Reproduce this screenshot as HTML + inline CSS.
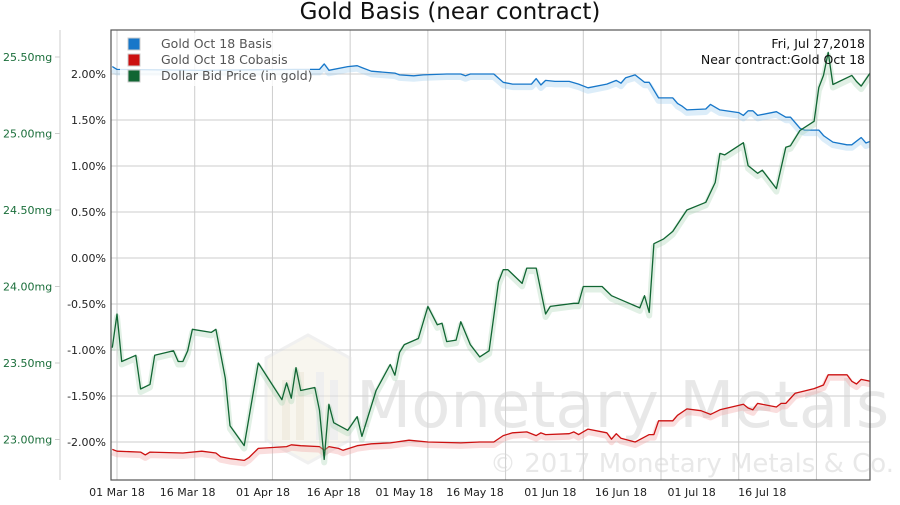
<!DOCTYPE html>
<html><head><meta charset="utf-8"><style>
html,body{margin:0;padding:0;background:#fff;}
svg text{font-family:"DejaVu Sans","Liberation Sans",sans-serif;}
</style></head><body>
<svg id="chart" width="900" height="500" viewBox="0 0 900 500" xmlns="http://www.w3.org/2000/svg">
<rect x="0" y="0" width="900" height="500" fill="#fff"/>
<text x="450" y="19" text-anchor="middle" font-size="23" fill="#111">Gold Basis (near contract)</text>
<g id="grid"></g>
<g id="watermark" opacity="0.55">
  <polygon points="308,335 350,358 350,440 308,463 266,440 266,358" fill="#f3efe2" stroke="#e4e4e4" stroke-width="3"/>
  <rect x="282" y="380" width="8" height="60" fill="#e6e0cc"/><rect x="296" y="372" width="8" height="68" fill="#e6e0cc"/>
  <rect x="316" y="372" width="8" height="68" fill="#e3e3e3"/><rect x="330" y="380" width="8" height="60" fill="#e3e3e3"/>
  <text x="356" y="427" font-size="64" fill="#d6d6d6">Monetary Metals</text>
  <text x="490" y="472" font-size="26" fill="#d6d6d6">© 2017 Monetary Metals &amp; Co.</text>
</g>
<g id="series"></g>
<rect x="111" y="30" width="759" height="450" fill="none" stroke="#555" stroke-width="1.2"/>
<line x1="60" y1="30" x2="60" y2="480" stroke="#ccc"/>
<g id="axes"></g>
<g>
  <rect x="120" y="33" width="190" height="53" fill="#fff" fill-opacity="0.8"/>
  <rect x="128" y="38" width="12" height="12" fill="#1777c9" stroke="#ccc"/>
  <text x="161" y="48" font-size="12.5" fill="#555">Gold Oct 18 Basis</text>
  <rect x="128" y="54" width="12" height="12" fill="#cc1111" stroke="#ccc"/>
  <text x="161" y="64" font-size="12.5" fill="#555">Gold Oct 18 Cobasis</text>
  <rect x="128" y="70" width="12" height="12" fill="#116633" stroke="#ccc"/>
  <text x="161" y="80" font-size="12.5" fill="#555">Dollar Bid Price (in gold)</text>
</g>
<text x="865" y="48" text-anchor="end" font-size="12.5" fill="#111">Fri, Jul 27,2018</text>
<text x="865" y="64" text-anchor="end" font-size="12.5" fill="#111">Near contract:Gold Oct 18</text>
</svg>
<script>
// days since 01 Mar 2018
const basisDays = [-1,0,18,38,43,44,45,49,51,52,54,59,60,63,65,70,73,74,75,77,80,82,84,88,89,90,91,93,96,98,100,104,106,107,108,110,112,113,115,118,119,120,121,125,126,128,132,133,134,135,136,140,142,143,145,146,149,150,152,155,156,158,159,160];
const basisVals = [2.08,2.05,2.04,2.05,2.05,2.11,2.04,2.08,2.09,2.07,2.03,2.01,1.99,1.98,1.99,2.00,2.00,1.98,2.00,2.00,2.00,1.91,1.89,1.89,1.95,1.88,1.93,1.92,1.92,1.89,1.85,1.89,1.93,1.90,1.96,1.99,1.91,1.91,1.74,1.74,1.68,1.65,1.61,1.62,1.67,1.61,1.58,1.55,1.60,1.60,1.55,1.59,1.53,1.53,1.41,1.39,1.39,1.33,1.26,1.23,1.23,1.31,1.25,1.27];
const cobasisDays = [-1,0,5,6,7,14,18,21,22,24,27,28,30,36,37,39,43,44,45,47,48,51,54,58,62,66,73,77,80,82,84,87,89,90,91,96,97,98,100,104,105,106,107,110,113,114,115,118,119,121,124,126,128,133,134,135,136,140,141,142,144,148,150,151,155,156,157,158,160];
const cobasisVals = [-2.08,-2.10,-2.11,-2.14,-2.11,-2.12,-2.10,-2.12,-2.16,-2.18,-2.20,-2.17,-2.07,-2.05,-2.03,-2.04,-2.05,-2.09,-2.05,-2.07,-2.09,-2.04,-2.02,-2.01,-1.98,-2.00,-2.01,-2.00,-2.00,-1.93,-1.90,-1.89,-1.93,-1.90,-1.92,-1.91,-1.89,-1.92,-1.86,-1.90,-1.97,-1.91,-1.96,-2.00,-1.92,-1.92,-1.77,-1.77,-1.71,-1.64,-1.66,-1.70,-1.65,-1.59,-1.63,-1.65,-1.58,-1.62,-1.58,-1.58,-1.47,-1.42,-1.38,-1.27,-1.27,-1.34,-1.37,-1.32,-1.34];
const dollarDays = [-1,0,1,4,5,7,8,12,13,14,15,16,20,21,23,24,27,30,35,36,37,38,39,42,43,44,45,46,49,51,52,55,58,59,60,61,64,66,68,69,70,72,73,75,77,79,81,82,83,86,87,89,91,92,97,98,99,103,104,105,108,111,112,113,114,116,118,121,125,127,128,129,133,134,136,137,140,142,143,145,148,149,150,151,152,156,157,158,160];
const dollarVals = [23.60,23.82,23.51,23.55,23.33,23.36,23.55,23.58,23.51,23.51,23.58,23.72,23.70,23.72,23.40,23.09,22.96,23.50,23.26,23.37,23.27,23.47,23.32,23.34,23.19,22.87,23.23,23.11,23.06,23.15,23.02,23.32,23.49,23.42,23.57,23.62,23.66,23.87,23.75,23.76,23.64,23.65,23.77,23.62,23.54,23.58,24.03,24.11,24.11,24.02,24.12,24.12,23.82,23.87,23.89,23.89,24.00,24.00,23.97,23.94,23.90,23.86,23.94,23.83,24.28,24.31,24.36,24.50,24.55,24.68,24.87,24.86,24.94,24.79,24.74,24.76,24.64,24.91,24.92,25.02,25.08,25.30,25.38,25.53,25.32,25.38,25.34,25.31,25.40];
const pctTicks = [2.0,1.5,1.0,0.5,0.0,-0.5,-1.0,-1.5,-2.0];
const pctLabels = ["2.00%","1.50%","1.00%","0.50%","0.00%","-0.50%","-1.00%","-1.50%","-2.00%"];
const mgTicks = [25.5,25.0,24.5,24.0,23.5,23.0];
const mgLabels = ["25.50mg","25.00mg","24.50mg","24.00mg","23.50mg","23.00mg"];
const xTickDays = [0,15,31,46,61,76,92,107,122,137];
const xTickLabels = ["01 Mar 18","16 Mar 18","01 Apr 18","16 Apr 18","01 May 18","16 May 18","01 Jun 18","16 Jun 18","01 Jul 18","16 Jul 18"];
const gridDays = [0,16.5,33,49.5,66,82.5,99,115.5,132,148.5];

const NS="http://www.w3.org/2000/svg";
const X0=111,X1=870,Y0=30,Y1=480;
function xs(d){return 117+d*4.71;}
function yPct(p){return 74+(2-p)*92;}
function yMg(m){return 57+(25.5-m)*153;}
function mk(tag,attrs,parent){const e=document.createElementNS(NS,tag);for(const k in attrs)e.setAttribute(k,attrs[k]);parent.appendChild(e);return e;}

const grid=document.getElementById('grid');
pctTicks.forEach(p=>{
  const l=mk('line',{x1:X0,x2:X1,y1:yPct(p),y2:yPct(p),stroke:'#ccc','stroke-width':1},grid);
  
  
});
gridDays.forEach(d=>{
  const l=mk('line',{x1:xs(d),x2:xs(d),y1:Y0,y2:Y1,stroke:'#ccc','stroke-width':1},grid);
  
  
});

const axes=document.getElementById('axes');
pctTicks.forEach((p,i)=>{
  const t=mk('text',{x:106,y:yPct(p)+4,'text-anchor':'end','font-size':11,fill:'#222'},axes);
  t.textContent=pctLabels[i];
  
  
});
mgTicks.forEach((m,i)=>{
  const t=mk('text',{x:3,y:yMg(m)+4,'font-size':11,fill:'#1a6e3a'},axes);
  t.textContent=mgLabels[i];
  
  
  const tk=mk('line',{x1:55,x2:60,y1:yMg(m),y2:yMg(m),stroke:'#ccc'},axes);
  
  
});
xTickDays.forEach((d,i)=>{
  const t=mk('text',{x:xs(d),y:496,'text-anchor':'middle','font-size':11,fill:'#222'},axes);
  t.textContent=xTickLabels[i];
  
  
});

const ser=document.getElementById('series');
const clip=mk('clipPath',{id:'pc'},mk('defs',{},ser));
mk('rect',{x:X0,y:Y0,width:X1-X0,height:Y1-Y0},clip);
function draw(days,vals,yf,color,glow,name){
  const pts=days.map((d,i)=>xs(d).toFixed(1)+','+yf(vals[i]).toFixed(1)).join(' ');
  const g=mk('g',{'clip-path':'url(#pc)'},ser);
  
  
  const s=mk('polyline',{points:pts,fill:'none',stroke:glow,'stroke-width':6,'stroke-opacity':0.35,transform:'translate(0,3)','stroke-linejoin':'round'},g);
  
  
  const l=mk('polyline',{points:pts,fill:'none',stroke:color,'stroke-width':1.3,'stroke-linejoin':'round'},g);
  
  
}
draw(basisDays,basisVals,yPct,'#1777c9','#9ccbef','basis');
draw(cobasisDays,cobasisVals,yPct,'#cc1111','#f0a0a0','cobasis');
draw(dollarDays,dollarVals,yMg,'#116633','#a9d3b5','dollar-bid-price');
</script>
</body></html>
